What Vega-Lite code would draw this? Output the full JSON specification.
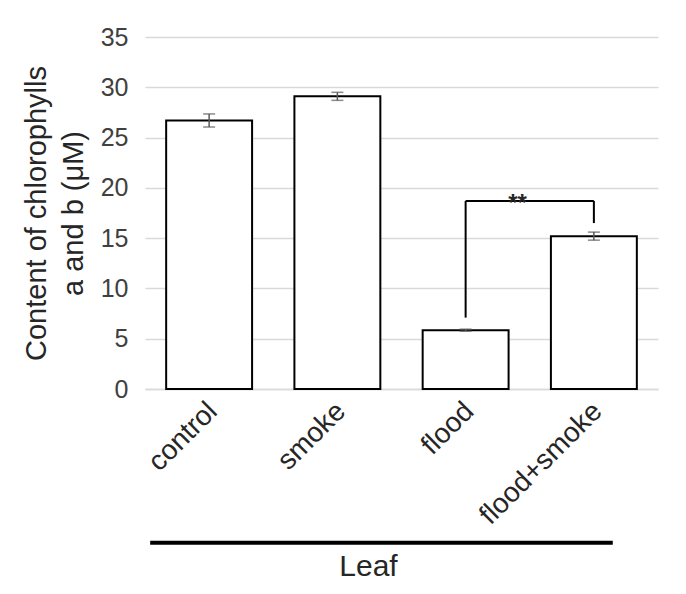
{
  "$schema": "https://vega.github.io/schema/vega-lite/v6.json",
  "width": 513,
  "height": 352,
  "autosize": "none",
  "padding": {"left": 145, "top": 37, "right": 28, "bottom": 205},
  "background": "white",
  "config": {
    "view": {"stroke": null},
    "font": "Liberation Sans"
  },
  "datasets": {
    "bars": [
      {"group": "control", "mean": 26.7, "lo": 26.05, "hi": 27.35},
      {"group": "smoke", "mean": 29.1, "lo": 28.7, "hi": 29.5},
      {"group": "flood", "mean": 5.85, "lo": 5.75, "hi": 5.95},
      {"group": "flood+smoke", "mean": 15.2, "lo": 14.8, "hi": 15.6}
    ],
    "bracketV": [
      {"group": "flood", "y1": 7.1, "y2": 18.7},
      {"group": "flood+smoke", "y1": 16.5, "y2": 18.7}
    ],
    "bracketH": [
      {"from": "flood", "to": "flood+smoke", "y": 18.7, "label": "**"}
    ],
    "baseline": [
      {"from": "control", "to": "flood+smoke", "y": -15.3}
    ]
  },
  "encoding": {
    "x": {
      "field": "group",
      "type": "nominal",
      "sort": ["control", "smoke", "flood", "flood+smoke"],
      "scale": {"domain": ["control", "smoke", "flood", "flood+smoke"], "paddingInner": 0.33, "paddingOuter": 0.165}
    }
  },
  "layer": [
    {
      "data": {"name": "bars"},
      "mark": {"type": "bar", "fill": "white", "stroke": "black", "strokeWidth": 2, "clip": false},
      "encoding": {
        "x": {
          "field": "group",
          "type": "nominal",
          "sort": ["control", "smoke", "flood", "flood+smoke"],
          "axis": {
            "title": "Leaf",
            "titleFontSize": 30,
            "titleFontWeight": "normal",
            "titleColor": "#262626",
            "titleX": 223,
            "titleY": 177,
            "titleBaseline": "middle",
            "labelAngle": -45,
            "labelFontSize": 28,
            "labelColor": "#262626",
            "labelPadding": 8,
            "labelOffset": -6,
            "ticks": false,
            "domain": true,
            "domainColor": "#d9d9d9",
            "domainWidth": 1.5,
            "grid": false
          }
        },
        "y": {
          "field": "mean",
          "type": "quantitative",
          "scale": {"domain": [0, 35], "nice": false},
          "axis": {
            "values": [0, 5, 10, 15, 20, 25, 30, 35],
            "title": ["Content of chlorophylls", "a and b (μM)"],
            "titleFontSize": 29,
            "titleFontWeight": "normal",
            "titleColor": "#262626",
            "titleLineHeight": 37,
            "titlePadding": 12,
            "labelFontSize": 25,
            "labelColor": "#404040",
            "labelPadding": 17,
            "ticks": false,
            "domain": false,
            "grid": true,
            "gridColor": "#d9d9d9",
            "gridWidth": 1.5
          }
        }
      }
    },
    {
      "data": {"name": "bars"},
      "mark": {"type": "rule", "color": "#595959", "strokeWidth": 1.5},
      "encoding": {
        "y": {"field": "lo", "type": "quantitative"},
        "y2": {"field": "hi"}
      }
    },
    {
      "data": {"name": "bars"},
      "mark": {"type": "tick", "color": "#595959", "size": 12, "thickness": 1.5, "orient": "horizontal"},
      "encoding": {"y": {"field": "lo", "type": "quantitative"}}
    },
    {
      "data": {"name": "bars"},
      "mark": {"type": "tick", "color": "#595959", "size": 12, "thickness": 1.5, "orient": "horizontal"},
      "encoding": {"y": {"field": "hi", "type": "quantitative"}}
    },
    {
      "data": {"name": "bracketV"},
      "mark": {"type": "rule", "color": "black", "strokeWidth": 2},
      "encoding": {
        "y": {"field": "y1", "type": "quantitative"},
        "y2": {"field": "y2"}
      }
    },
    {
      "data": {"name": "bracketH"},
      "mark": {"type": "rule", "color": "black", "strokeWidth": 2},
      "encoding": {
        "x": {"field": "from", "type": "nominal"},
        "x2": {"field": "to"},
        "y": {"field": "y", "type": "quantitative"}
      }
    },
    {
      "data": {"name": "bracketH"},
      "mark": {"type": "text", "fontSize": 24, "fontWeight": "bold", "color": "#262626", "baseline": "alphabetic", "dy": 10, "dx": 9},
      "encoding": {
        "x": {"field": "from", "type": "nominal", "bandPosition": 1},
        "y": {"field": "y", "type": "quantitative"},
        "text": {"field": "label"}
      }
    },
    {
      "data": {"name": "baseline"},
      "mark": {"type": "rule", "color": "black", "strokeWidth": 4, "clip": false},
      "encoding": {
        "x": {"field": "from", "type": "nominal", "bandPosition": -0.186},
        "x2": {"field": "to", "bandPosition": 0.72},
        "y": {"field": "y", "type": "quantitative"}
      }
    }
  ]
}
